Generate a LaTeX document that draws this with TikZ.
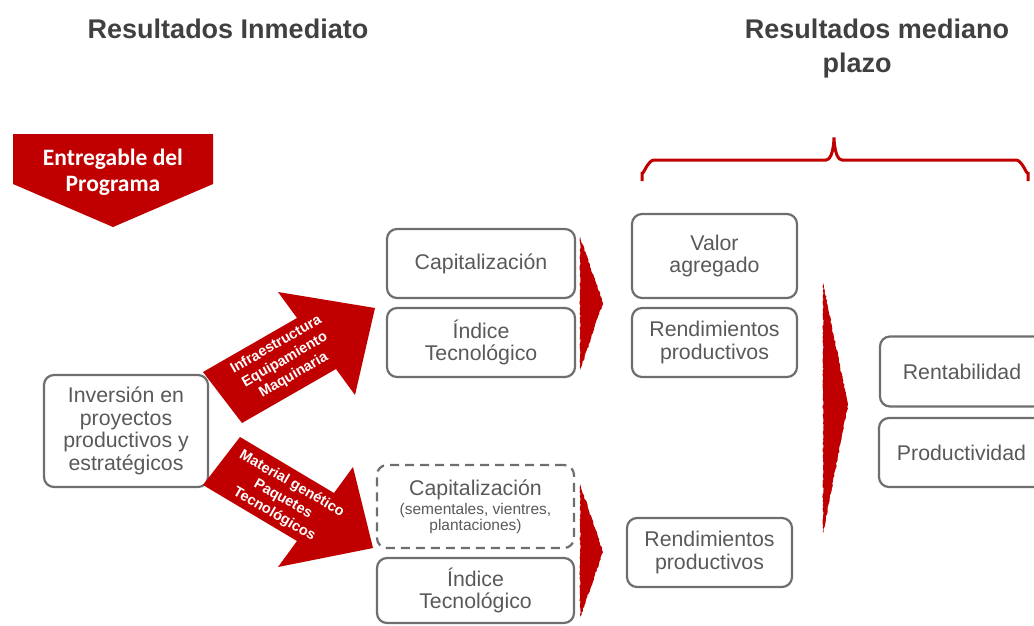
\documentclass[tikz,border=0pt]{standalone}
\usepackage{fontspec}
\setmainfont{Liberation Sans}
\newfontfamily\carl{Carlito}
\usetikzlibrary{decorations.pathmorphing}
\definecolor{rd}{HTML}{C00000}
\definecolor{bx}{HTML}{6E6E6E}
\definecolor{tx}{HTML}{595959}
\definecolor{tt}{HTML}{404040}
\begin{document}
\begin{tikzpicture}[x=1pt,y=-1pt,
  box/.style={draw=bx, line width=2.2pt, rounded corners=10pt, text=tx, align=center,
    font=\fontsize{21.3}{22.5}\selectfont, inner sep=0pt},
  sz/.style 2 args={minimum width=#1pt, minimum height=#2pt},
  dashbox/.style={box, dash pattern=on 9pt off 6pt},
  title/.style={text=tt, font=\fontsize{27}{34}\selectfont\bfseries, anchor=base, inner sep=0pt},
  arrtext/.style={text=white, font=\fontsize{14.5}{17.5}\selectfont\bfseries, align=center, inner sep=0pt},
  bigarrow/.style={fill=rd},
  chev/.style={fill=rd, decorate, decoration={random steps, segment length=2pt, amplitude=0.6pt}},
  brace/.style={draw=rd, line width=3pt}
]
\useasboundingbox (0,0) rectangle (1034,625);
\clip (0,0) rectangle (1034,625);

% titles
\node[title] (t1) at (228,38) {Resultados Inmediato};
\node[title] (t2) at (877,38) {Resultados mediano};
\node[title] (t3) at (857,72.5) {plazo};

% Entregable del Programa
\path[fill=rd] (13,134) -- (213,134) -- (213,184) -- (113,227) -- (13,184) -- cycle;
\node[text=white, font=\carl\fontsize{23.5}{26}\selectfont\bfseries, align=center, inner sep=0pt] (ent) at (113,172) {Entregable del\\Programa};

% brace
\draw[brace] (642,181) -- (642,172) to[out=-90,in=180] (654,160) -- (826,160)
  to[out=0,in=90] (834,139) to[out=90,in=180] (842,160) -- (1016,160)
  to[out=0,in=-90] (1028,172) -- (1028,181);

% boxes
\node[box, sz={164}{112}] (inv) at (126,431) {Inversión en\\proyectos\\productivos y\\estratégicos};
\node[box, sz={188}{69}] (cap1) at (481,263.5) {Capitalización};
\node[box, sz={188}{69}] (ind1) at (481,342.5) {Índice\\Tecnológico};
\node[dashbox, sz={197}{83}] (cap2) at (475.5,506.5) {Capitalización\\[-3pt]{\fontsize{15.5}{17}\selectfont (sementales, vientres,}\\[-7pt]{\fontsize{15.5}{17}\selectfont plantaciones)}};
\node[box, sz={197}{65}] (ind2) at (475.5,590.5) {Índice\\Tecnológico};
\node[box, sz={165}{84}] (val) at (714.5,256) {Valor\\agregado};
\node[box, sz={165}{69}] (ren1) at (714.5,342.5) {Rendimientos\\productivos};
\node[box, sz={165}{69}] (ren2) at (709.5,552.5) {Rendimientos\\productivos};
\node[box, sz={164}{70}] (rent) at (962,371.5) {Rentabilidad};
\node[box, sz={165}{69}] (prod) at (961.5,452.5) {Productividad};

% big arrows
\path[bigarrow] (203,372) -- (297,318) -- (278,292) -- (375,308) -- (355,395) -- (336,369) -- (242,423) -- cycle;
\node[arrtext, rotate=30] (a1) at (285,360) {Infraestructura\\Equipamiento\\Maquinaria};
\path[bigarrow] (240,437) -- (334,493) -- (353,467) -- (373,548) -- (278,567) -- (297,541) -- (203,485) -- cycle;
\node[arrtext, rotate=-30] (a2) at (283,499) {Material genético\\Paquetes\\Tecnológicos};

% chevrons
\path[chev] (580,237) -- (603,303) -- (580,370) -- cycle;
\path[chev] (580,484) -- (603,552) -- (580,618) -- cycle;
\path[chev] (823,283) -- (848,405) -- (823,533) -- cycle;
\end{tikzpicture}
\end{document}
